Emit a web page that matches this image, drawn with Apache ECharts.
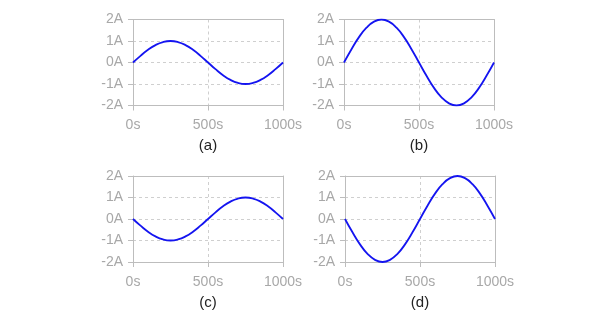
<!DOCTYPE html>
<html>
<head>
<meta charset="utf-8">
<script src="https://cdn.jsdelivr.net/npm/echarts@6/dist/echarts.min.js"></script>
<style>
  html, body { margin: 0; padding: 0; background: #fff; }
  #chart { width: 600px; height: 322px; }
</style>
</head>
<body>
<div id="chart"></div>
<script>
// Sample times (s) and current readings (A) for the four panels
const times = [0, 50, 100, 150, 200, 250, 300, 350, 400, 450, 500,
               550, 600, 650, 700, 750, 800, 850, 900, 950, 1000];
const currentA = [0, 0.31, 0.59, 0.81, 0.95, 1, 0.95, 0.81, 0.59, 0.31, 0,
                  -0.31, -0.59, -0.81, -0.95, -1, -0.95, -0.81, -0.59, -0.31, 0];
const currentB = [0, 0.62, 1.18, 1.62, 1.9, 2, 1.9, 1.62, 1.18, 0.62, 0,
                  -0.62, -1.18, -1.62, -1.9, -2, -1.9, -1.62, -1.18, -0.62, 0];
const currentC = [0, -0.31, -0.59, -0.81, -0.95, -1, -0.95, -0.81, -0.59, -0.31, 0,
                  0.31, 0.59, 0.81, 0.95, 1, 0.95, 0.81, 0.59, 0.31, 0];
const currentD = [0, -0.62, -1.18, -1.62, -1.9, -2, -1.9, -1.62, -1.18, -0.62, 0,
                  0.62, 1.18, 1.62, 1.9, 2, 1.9, 1.62, 1.18, 0.62, 0];
const panelLabels = ['(a)', '(b)', '(c)', '(d)'];
const panelData = [currentA, currentB, currentC, currentD];

const axisColor = '#bdbdbd';
const gridColor = '#cfcfcf';
const labelColor = '#a8a8a8';
const font = 'Liberation Sans, Arial, sans-serif';

const boxes = [
  { left: 133, top: 19.5, width: 150, height: 86 },
  { left: 344, top: 19.5, width: 150, height: 86 },
  { left: 133, top: 176, width: 150, height: 86 },
  { left: 345, top: 176, width: 150, height: 86 }
];

const frameLine = { show: true, onZero: false, lineStyle: { color: axisColor, width: 1 } };

const grid = [], xAxis = [], yAxis = [], series = [];
boxes.forEach((b, i) => {
  grid.push(Object.assign({ containLabel: false }, b));
  // bottom time axis with caption
  xAxis.push({
    type: 'value', gridIndex: i, min: 0, max: 1000, interval: 500,
    position: 'bottom',
    name: panelLabels[i], nameLocation: 'middle', nameGap: 33,
    nameTextStyle: { color: '#222', fontSize: 15, fontFamily: font },
    axisLine: frameLine,
    axisTick: { show: true, length: 5, lineStyle: { color: axisColor } },
    axisLabel: { color: labelColor, fontSize: 14, fontFamily: font, margin: 13,
                 formatter: v => v + 's' },
    splitLine: { show: true, lineStyle: { color: gridColor, type: [3, 3], width: 1 } }
  });
  // top frame edge
  xAxis.push({
    type: 'value', gridIndex: i, min: 0, max: 1000, position: 'top',
    axisLine: frameLine,
    axisTick: { show: false }, axisLabel: { show: false }, splitLine: { show: false }
  });
  // left current axis
  yAxis.push({
    type: 'value', gridIndex: i, min: -2, max: 2, interval: 1,
    position: 'left',
    axisLine: frameLine,
    axisTick: { show: true, length: 5, lineStyle: { color: axisColor } },
    axisLabel: { color: labelColor, fontSize: 14, fontFamily: font, margin: 10,
                 formatter: v => v + 'A' },
    splitLine: { show: true, lineStyle: { color: gridColor, type: [3, 3], width: 1 } }
  });
  // right frame edge
  yAxis.push({
    type: 'value', gridIndex: i, min: -2, max: 2, position: 'right',
    axisLine: frameLine,
    axisTick: { show: false }, axisLabel: { show: false }, splitLine: { show: false }
  });
  series.push({
    type: 'line', xAxisIndex: 2 * i, yAxisIndex: 2 * i,
    data: times.map((t, k) => [t, panelData[i][k]]),
    smooth: true, showSymbol: false, symbol: 'none',
    lineStyle: { color: '#1414f0', width: 1.8 },
    z: 5
  });
});

const chart = echarts.init(document.getElementById('chart'), null, { renderer: 'canvas' });
chart.setOption({
  animation: false,
  backgroundColor: '#ffffff',
  grid, xAxis, yAxis, series
});
</script>
</body>
</html>
